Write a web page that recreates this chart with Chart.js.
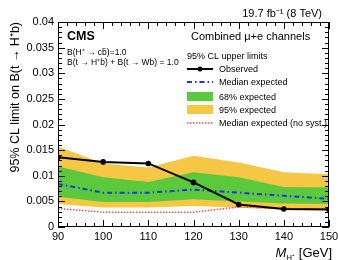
<!DOCTYPE html>
<html>
<head>
<meta charset="utf-8">
<script src="https://cdn.jsdelivr.net/npm/chart.js@4.4.0/dist/chart.umd.min.js"></script>
<style>
  html, body { margin: 0; padding: 0; background: #fff; }
</style>
</head>
<body>
<canvas id="limitChart" width="338" height="260"></canvas>
<script>
// charged Higgs mass points [GeV]
const masses = [90, 100, 110, 120, 130, 140, 150];
const observed = [0.0136, 0.0127, 0.0124, 0.0087, 0.0044, 0.0035, 0.0034];
const expected = [0.0084, 0.0067, 0.0067, 0.0073, 0.0067, 0.0061, 0.0055];
const band68Up = [0.0118, 0.0097, 0.0088, 0.0107, 0.0097, 0.0078, 0.0077];
const band68Down = [0.0059, 0.0049, 0.0049, 0.0054, 0.0050, 0.0046, 0.0045];
const band95Up = [0.0157, 0.0124, 0.0116, 0.0139, 0.0126, 0.0107, 0.0103];
const band95Down = [0.0045, 0.0038, 0.0038, 0.0041, 0.0038, 0.0034, 0.0033];
const expectedNoSyst = [0.0036, 0.0029, 0.0029, 0.0029, 0.0039, 0.0036, 0.0035];

const xMin = 90, xMax = 150, xStep = 10;
const yMin = 0, yMax = 0.04, yStep = 0.005;

const FONT = '"Liberation Sans", Arial, sans-serif';
const GREEN = '#5cc83c';
const YELLOW = '#f6c744';
const BLUE = '#1a3ad8';
const RED = '#f05050';

function pts(arr) {
    return masses.map((m, i) => ({ x: m, y: arr[i] }));
}

// ROOT style frame: box with inward ticks on all sides, plus the text
const rootFrame = {
    id: 'rootFrame',
    afterDatasetsDraw(chart) {
        const ctx = chart.ctx;
        const a = chart.chartArea;
        const x = chart.scales.x, y = chart.scales.y;
        ctx.save();
        ctx.strokeStyle = '#000';
        ctx.lineWidth = 1;
        ctx.strokeRect(a.left + 0.5, a.top + 0.5, a.right - a.left - 1, a.bottom - a.top - 1);
        ctx.beginPath();
        for (let v = xMin; v <= xMax; v += 2) {
            const px = Math.round(x.getPixelForValue(v)) + 0.5;
            const len = (v % xStep === 0) ? 7 : 4;
            ctx.moveTo(px, a.bottom); ctx.lineTo(px, a.bottom - len);
            ctx.moveTo(px, a.top); ctx.lineTo(px, a.top + len);
        }
        for (let i = 0; i <= 40; i++) {
            const py = Math.round(y.getPixelForValue(i / 1000)) + 0.5;
            const len = (i % 5 === 0) ? 7 : 4;
            ctx.moveTo(a.left, py); ctx.lineTo(a.left + len, py);
            ctx.moveTo(a.right, py); ctx.lineTo(a.right - len, py);
        }
        ctx.stroke();
        ctx.restore();
    },
    afterDraw(chart) {
        const ctx = chart.ctx;
        ctx.save();
        ctx.fillStyle = '#000';
        ctx.textBaseline = 'alphabetic';

        // luminosity label
        ctx.textAlign = 'right';
        ctx.font = '11px ' + FONT;
        ctx.fillText('19.7 fb\u207B\u00B9 (8 TeV)', 322, 17);

        // CMS + assumptions
        ctx.textAlign = 'left';
        ctx.font = 'bold 12.5px ' + FONT;
        ctx.fillText('CMS', 67, 40);
        ctx.font = '8.5px ' + FONT;
        ctx.fillText('B(H\u207A \u2192 cb\u0304)=1.0', 67, 55);
        ctx.fillText('B(t \u2192 H\u207Ab) + B(t \u2192 Wb) = 1.0', 67, 65);

        // legend
        ctx.font = '11px ' + FONT;
        ctx.fillText('Combined \u03BC+e channels', 191, 40);
        ctx.font = '9px ' + FONT;
        ctx.fillText('95% CL upper limits', 187, 59);
        const lx0 = 187, lx1 = 213, tx = 219;
        const rows = [69, 82, 96.5, 109.5, 123];
        ctx.fillText('Observed', tx, rows[0] + 3);
        ctx.fillText('Median expected', tx, rows[1] + 3);
        ctx.fillText('68% expected', tx, rows[2] + 3);
        ctx.fillText('95% expected', tx, rows[3] + 3);
        ctx.fillText('Median expected (no syst.)', tx, rows[4] + 3);

        ctx.strokeStyle = '#000';
        ctx.lineWidth = 2;
        ctx.beginPath(); ctx.moveTo(lx0, rows[0]); ctx.lineTo(lx1, rows[0]); ctx.stroke();
        ctx.beginPath(); ctx.arc((lx0 + lx1) / 2, rows[0], 2.5, 0, Math.PI * 2); ctx.fill();
        ctx.strokeStyle = BLUE;
        ctx.setLineDash([5, 3, 1.5, 3]);
        ctx.beginPath(); ctx.moveTo(lx0, rows[1]); ctx.lineTo(lx1, rows[1]); ctx.stroke();
        ctx.fillStyle = GREEN;
        ctx.fillRect(lx0, rows[2] - 4.5, lx1 - lx0, 9);
        ctx.fillStyle = YELLOW;
        ctx.fillRect(lx0, rows[3] - 4.5, lx1 - lx0, 9);
        ctx.strokeStyle = RED;
        ctx.lineWidth = 1.5;
        ctx.setLineDash([1.5, 1.5]);
        ctx.beginPath(); ctx.moveTo(lx0, rows[4]); ctx.lineTo(lx1, rows[4]); ctx.stroke();
        ctx.setLineDash([]);

        // x axis title: M_{H+} [GeV], right aligned
        ctx.fillStyle = '#000';
        const big = '13px ' + FONT, small = '8px ' + FONT;
        ctx.font = 'italic ' + big;
        const wM = ctx.measureText('M').width;
        ctx.font = small;
        const wSub = ctx.measureText('H\u207A').width;
        ctx.font = big;
        const wRest = ctx.measureText(' [GeV]').width;
        let cx = 332 - (wM + wSub + wRest);
        const base = 257;
        ctx.font = 'italic ' + big;
        ctx.fillText('M', cx, base); cx += wM;
        ctx.font = small;
        ctx.fillText('H\u207A', cx, base + 3); cx += wSub;
        ctx.font = big;
        ctx.fillText(' [GeV]', cx, base);
        ctx.restore();
    }
};

new Chart(document.getElementById('limitChart').getContext('2d'), {
    type: 'line',
    data: {
        datasets: [
            { label: 'Observed', data: pts(observed), borderColor: '#000', backgroundColor: '#000',
              borderWidth: 2, pointRadius: 2.8, pointBorderWidth: 0, fill: false },
            { label: 'Median expected', data: pts(expected), borderColor: BLUE, borderWidth: 2,
              borderDash: [5, 3, 1.5, 3], pointRadius: 0, fill: false },
            { label: 'Median expected (no syst.)', data: pts(expectedNoSyst), borderColor: RED,
              borderWidth: 1.5, borderDash: [1.5, 1.5], pointRadius: 0, fill: false },
            { label: '68% expected', data: pts(band68Up), borderWidth: 0, pointRadius: 0,
              backgroundColor: GREEN, fill: '+1' },
            { label: '68% low', data: pts(band68Down), borderWidth: 0, pointRadius: 0, fill: false },
            { label: '95% expected', data: pts(band95Up), borderWidth: 0, pointRadius: 0,
              backgroundColor: YELLOW, fill: '+1' },
            { label: '95% low', data: pts(band95Down), borderWidth: 0, pointRadius: 0, fill: false }
        ]
    },
    options: {
        responsive: false,
        animation: false,
        devicePixelRatio: 1,
        layout: { padding: { top: 22, right: 9, left: 0, bottom: 0 } },
        plugins: { legend: { display: false }, tooltip: { enabled: false } },
        scales: {
            x: {
                type: 'linear', min: xMin, max: xMax,
                grid: { display: false, drawTicks: false },
                border: { display: false },
                ticks: { stepSize: xStep, color: '#000', padding: 3, maxRotation: 0,
                         font: { family: FONT, size: 11 } },
                afterFit(scale) { scale.height = 33; scale.paddingLeft = 0; scale.paddingRight = 0; }
            },
            y: {
                min: yMin, max: yMax,
                grid: { display: false, drawTicks: false },
                border: { display: false },
                ticks: { stepSize: yStep, color: '#000', padding: 4,
                         font: { family: FONT, size: 11 },
                         callback: v => String(+v.toFixed(3)) },
                title: { display: true, text: '95% CL limit on B(t \u2192 H\u207Ab)', align: 'end',
                         color: '#000', font: { family: FONT, size: 12.5 }, padding: { top: 8, bottom: 0 } },
                afterFit(scale) { scale.width = 58; scale.paddingTop = 0; scale.paddingBottom = 0; }
            }
        }
    },
    plugins: [rootFrame]
});
</script>
</body>
</html>
